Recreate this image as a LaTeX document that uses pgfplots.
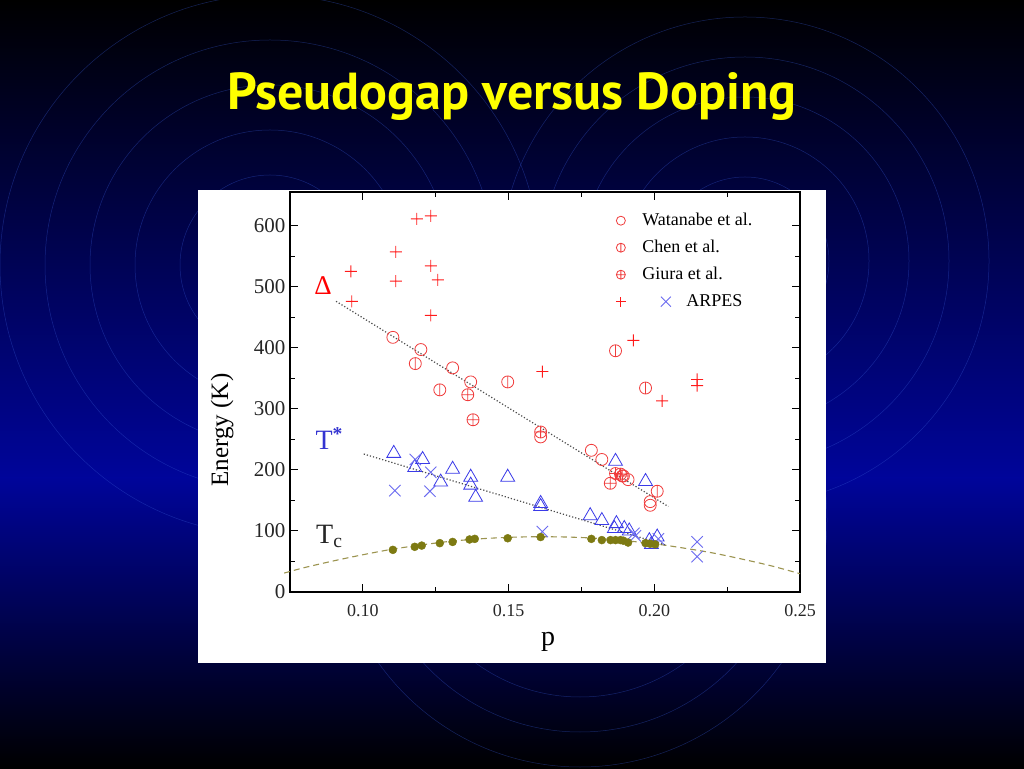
\documentclass[border=0pt]{standalone}
\usepackage{fontspec}
\setmainfont{Liberation Serif}
\newfontfamily\titlefont{PT Sans}
\usepackage{pgfplots}
\pgfplotsset{compat=1.18}

\definecolor{wred}{HTML}{F03C3C}
\definecolor{cred}{HTML}{FF1A1A}
\definecolor{tblue}{HTML}{3A3AE8}
\definecolor{xblue}{HTML}{6A6AF0}
\definecolor{olivedot}{HTML}{7D7A12}
\definecolor{olivedash}{HTML}{9C9450}
\definecolor{bgblue}{HTML}{00059A}
\definecolor{ringblue}{HTML}{3656D0}
\definecolor{titleyellow}{HTML}{FFFF00}

% circle with a vertical bar (Chen et al.)
\pgfdeclareplotmark{ovbar}{%
  \pgfpathcircle{\pgfpointorigin}{\pgfplotmarksize}%
  \pgfpathmoveto{\pgfqpoint{0pt}{-\pgfplotmarksize}}%
  \pgfpathlineto{\pgfqpoint{0pt}{\pgfplotmarksize}}%
  \pgfusepathqstroke}
% plus sign made of two filled bars
\pgfdeclareplotmark{fplus}{%
  \pgfpathrectangle{\pgfqpoint{-\pgfplotmarksize}{-0.45pt}}{\pgfqpoint{2\pgfplotmarksize}{0.9pt}}%
  \pgfpathrectangle{\pgfqpoint{-0.45pt}{-\pgfplotmarksize}}{\pgfqpoint{0.9pt}{2\pgfplotmarksize}}%
  \pgfusepathqfill}

\begin{document}
\begin{tikzpicture}[x=1pt,y=1pt]
\useasboundingbox (0,0) rectangle (1024,768);
% slide background
\shade[top color=black, bottom color=bgblue] (0,289.5) rectangle (1024,768);
\shade[top color=bgblue, bottom color=black] (0,0) rectangle (1024,290);
\begin{scope}
\clip (0,0) rectangle (1024,768);
\foreach \r in {90,135,180,225,270}
  \draw[ringblue, line width=0.5pt, opacity=0.4] (270,503) circle[radius=\r pt];
\foreach \r in {84,124,164,204,244}
  \draw[ringblue, line width=0.5pt, opacity=0.4] (745,507) circle[radius=\r pt];
\foreach \r in {142,177,212,247}
  \draw[ringblue, line width=0.5pt, opacity=0.4] (580,248) circle[radius=\r pt];
\end{scope}
\node[anchor=base, text=titleyellow, font=\titlefont\bfseries\fontsize{52}{56}\selectfont] at (512,658) {Pseudogap versus Doping};
\fill[white] (198,105) rectangle (826,578);

\begin{axis}[
  at={(290pt,176pt)}, anchor=south west,
  width=510pt, height=400pt, scale only axis,
  xmin=0.075, xmax=0.25, ymin=0, ymax=655,
  clip=false,
  xtick={0.10,0.15,0.20,0.25}, xticklabels={0.10,0.15,0.20,0.25},
  minor xtick={0.125,0.175,0.225},
  ytick={0,100,...,600}, minor ytick={50,150,...,550},
  tick align=inside,
  major tick length=8pt, minor tick length=5pt,
  every tick/.style={black, line width=1.1pt},
  axis line style={black, line width=1.4pt},
  /pgf/number format/assume math mode=true,
  xticklabel style={font=\fontsize{18}{20}\selectfont, text=black!85, yshift=-9pt},
  yticklabel style={font=\fontsize{21}{23}\selectfont, text=black!85, xshift=-1pt},
  xlabel={p},
  xlabel style={font=\fontsize{28}{30}\selectfont, at={(axis description cs:0.506,-0.125)}, anchor=center},
  ylabel={Energy (K)},
  ylabel style={font=\fontsize{25}{28}\selectfont, at={(axis description cs:-0.133,0.405)}, anchor=center, rotate=0},
  legend cell align=left,
  legend style={draw=none, fill=none, at={(axis description cs:0.626,0.96)}, anchor=north west,
    font=\fontsize{18}{20}\selectfont, row sep=6pt,
    nodes={inner sep=2pt, text height=13pt, text depth=4pt}},
  legend image code/.code={
    \path (0pt,0pt) (27pt,0pt);
    \draw[#1, mark size=4.5pt] plot[only marks] coordinates {(8pt,0pt)};
  },
]

\addplot[only marks, mark=o, wred, mark size=6pt, line width=0.8pt] coordinates {
  (0.1103,417) (0.1199,397) (0.1308,367) (0.1370,344) (0.1610,254)
  (0.1784,232) (0.1820,217) (0.1894,190) (0.1910,184) (0.1986,148) (0.1986,142)
};
\addlegendentry{Watanabe et al.}

\addplot[only marks, mark=ovbar, wred, mark size=6pt, line width=0.8pt] coordinates {
  (0.1180,374) (0.1264,331) (0.1497,344) (0.1867,395) (0.1970,334) (0.2010,165)
};
\addlegendentry{Chen et al.}

\addplot[only marks, mark=oplus, wred, mark size=6pt, line width=0.8pt] coordinates {
  (0.1360,323) (0.1378,282) (0.1610,262) (0.1849,178) (0.1867,194)
  (0.1884,193) (0.1890,190)
};
\addlegendentry{Giura et al.}

\addplot[only marks, mark=fplus, cred, mark size=6pt,
  legend image code/.code={
    \path (0pt,0pt) (27pt,0pt);
    \draw[cred, line width=0.9pt] (3pt,0pt) -- (13pt,0pt) (8pt,-5pt) -- (8pt,5pt);
    \draw[overlay, xblue, line width=0.9pt] (48pt,-5pt) -- (58pt,5pt) (48pt,5pt) -- (58pt,-5pt);
  }] coordinates {
  (0.0959,525) (0.0962,476) (0.1113,557) (0.1113,509) (0.1185,611)
  (0.1233,616) (0.1233,534) (0.1257,511) (0.1233,453) (0.1616,361)
  (0.1928,412) (0.2027,313) (0.2147,348) (0.2147,338)
};
\addlegendentry{\hspace{44pt}ARPES}

% T* triangles
\addplot[only marks, mark=triangle, tblue, mark size=8pt, line width=0.8pt, forget plot] coordinates {
  (0.1106,227) (0.1178,204) (0.1205,217) (0.1267,180) (0.1308,201)
  (0.1370,188) (0.1370,175) (0.1387,155) (0.1497,188) (0.1610,145)
  (0.1610,140) (0.1780,125) (0.1820,117) (0.1867,214) (0.1970,181)
  (0.1870,112) (0.1863,104) (0.1897,104) (0.1914,100) (0.1983,84)
  (0.2010,90) (0.1990,78)
};
% ARPES T*
\addplot[only marks, mark=x, xblue, mark size=8pt, line width=0.9pt, forget plot] coordinates {
  (0.1110,166) (0.1180,217) (0.1233,196) (0.1230,165) (0.1616,99)
  (0.1930,96) (0.1935,92) (0.2014,87) (0.2147,82) (0.2147,58)
};

% Tc dome
\addplot[olivedash, dash pattern=on 6pt off 4pt, line width=1.1pt, smooth, forget plot] coordinates {
  (0.073,31) (0.08,40) (0.09,51) (0.10,61) (0.11,70) (0.12,77) (0.13,83)
  (0.14,87) (0.15,89.5) (0.16,90.5) (0.17,90) (0.18,88) (0.19,84) (0.20,79)
  (0.21,72) (0.22,64) (0.23,54) (0.24,43) (0.25,30)
};
\addplot[only marks, mark=*, olivedot, mark size=4pt, forget plot] coordinates {
  (0.1103,69) (0.1178,74) (0.1202,76) (0.1264,80) (0.1308,82) (0.1366,86)
  (0.1384,87) (0.1497,88) (0.1610,90) (0.1784,87) (0.1820,85) (0.1850,85)
  (0.1867,85) (0.1884,85) (0.1894,84) (0.1910,81) (0.1970,80) (0.1986,79)
  (0.2003,78)
};

% guide lines
\addplot[black!70, dotted, line width=1.2pt, forget plot] coordinates {(0.0908,476) (0.2048,140)};
\addplot[black!70, dotted, line width=1.2pt, forget plot] coordinates {(0.1003,226) (0.2038,77)};

\node[text=red, font=\fontsize{27}{29}\selectfont] at (axis cs:0.0863,502) {Δ};
\node[text=tblue!90!black, font=\fontsize{28}{30}\selectfont] at (axis cs:0.0885,252) {T\textsuperscript{\textbf{*}}};
\node[text=black!85, font=\fontsize{28}{30}\selectfont] at (axis cs:0.0885,91) {T\textsubscript{c}};

\end{axis}
\end{tikzpicture}
\end{document}
